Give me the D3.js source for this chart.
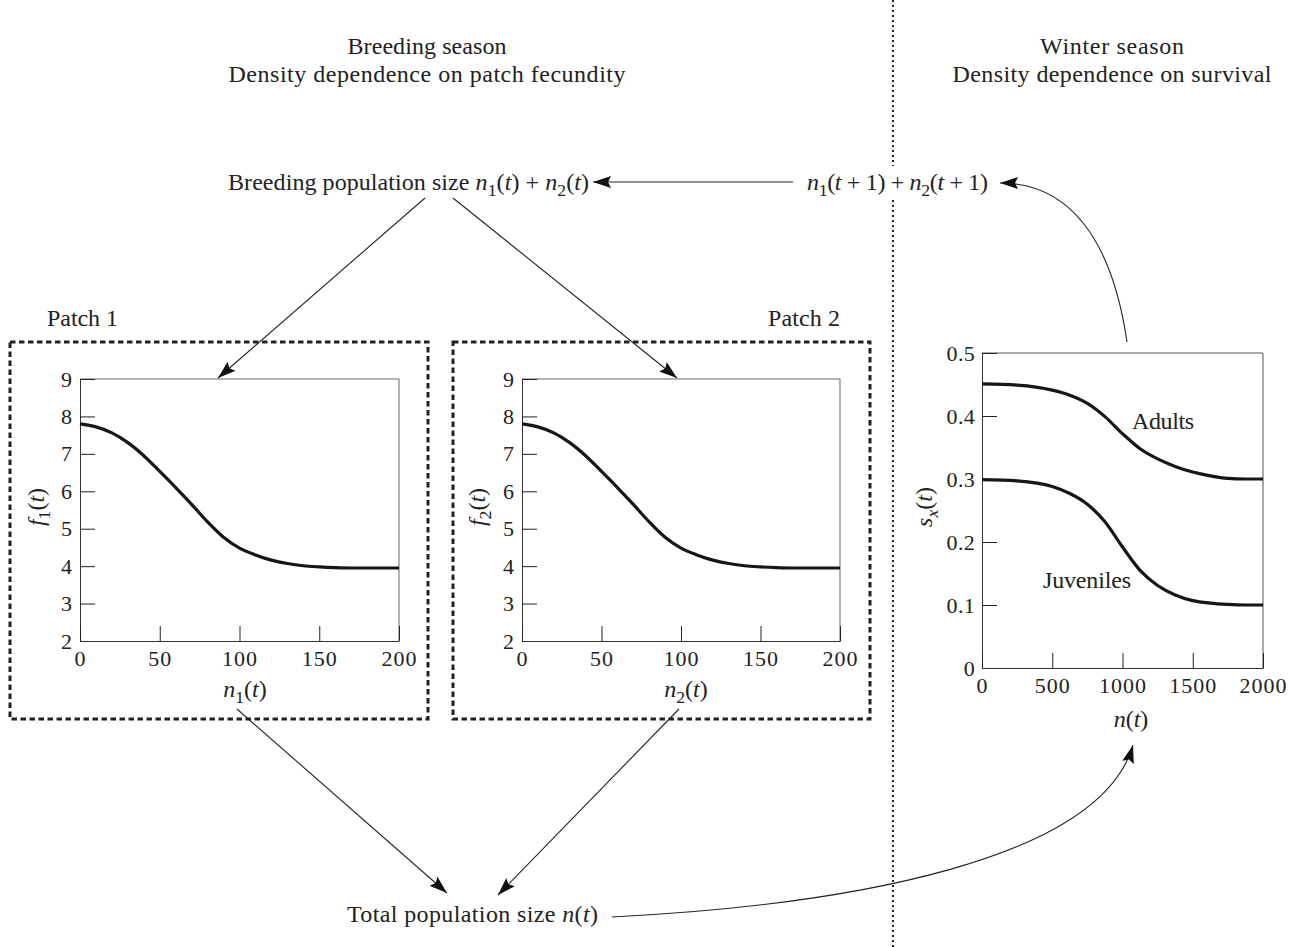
<!DOCTYPE html>
<html>
<head>
<meta charset="utf-8">
<script src="https://cdn.jsdelivr.net/npm/d3@7"></script>
<style>
  html, body { margin: 0; padding: 0; background: #fff; }
  svg { display: block; }
  text { font-family: "Liberation Serif", "Times New Roman", serif; fill: #222; }
</style>
</head>
<body>
<svg id="chart" width="1295" height="947"></svg>
<script>
// ---- Data ----
const fecN = [0, 10, 20, 30, 40, 50, 60, 70, 80, 90, 100, 110, 120, 130, 140, 150, 160, 170, 180, 190, 200];
const fecundity1 = [7.8, 7.72, 7.56, 7.3, 6.95, 6.53, 6.1, 5.65, 5.18, 4.77, 4.48, 4.3, 4.16, 4.07, 4.01, 3.98, 3.96, 3.95, 3.95, 3.95, 3.95];
const fecundity2 = [7.8, 7.72, 7.56, 7.3, 6.95, 6.53, 6.1, 5.65, 5.18, 4.77, 4.48, 4.3, 4.16, 4.07, 4.01, 3.98, 3.96, 3.95, 3.95, 3.95, 3.95];
const survN = [0, 250, 500, 625, 750, 875, 1000, 1125, 1250, 1375, 1500, 1625, 1750, 1875, 2000];
const adults = [0.451, 0.449, 0.441, 0.433, 0.420, 0.399, 0.372, 0.348, 0.332, 0.320, 0.311, 0.305, 0.301, 0.300, 0.300];
const juveniles = [0.299, 0.297, 0.288, 0.277, 0.260, 0.232, 0.192, 0.155, 0.131, 0.116, 0.107, 0.103, 0.101, 0.100, 0.100];
const fecXTicks = [0, 50, 100, 150, 200];
const fecYTicks = [2, 3, 4, 5, 6, 7, 8, 9];
const survXTicks = [0, 500, 1000, 1500, 2000];
const survYTicks = [0, 0.1, 0.2, 0.3, 0.4, 0.5];

const svg = d3.select("#chart");
const TICK_FS = 22;
const FS = 24;

// arrow marker
const defs = svg.append("defs");
defs.append("marker")
  .attr("id", "arrow")
  .attr("markerUnits", "userSpaceOnUse")
  .attr("markerWidth", 20).attr("markerHeight", 14)
  .attr("refX", 18).attr("refY", 6)
  .attr("orient", "auto")
  .append("path")
  .attr("d", "M0,0 L18,6 L0,12 L3,6 Z")
  .attr("fill", "#111");

// text helper: parts with italic / subscript, optional fitted width
function rich(x, y, parts, anchor, size, width, rotate) {
  const t = svg.append("text")
    .attr("text-anchor", anchor || "start")
    .style("font-size", size + "px");
  if (rotate) {
    t.attr("transform", `translate(${x},${y}) rotate(${rotate})`);
  } else {
    t.attr("x", x).attr("y", y);
  }
  if (width) t.attr("textLength", width).attr("lengthAdjust", "spacing");
  let off = 0;
  parts.forEach(p => {
    const ts = t.append("tspan").text(p.t);
    const target = p.sub ? Math.round(size * 0.26) : 0;
    if (target !== off) { ts.attr("dy", target - off); off = target; }
    if (p.i) ts.style("font-style", "italic");
    if (p.sub) ts.style("font-size", (size * 0.74) + "px");
  });
  return t;
}
const plain = s => [{t: s}];

// ---- Titles ----
rich(427, 54, plain("Breeding season"), "middle", FS, 159);
rich(427, 82, plain("Density dependence on patch fecundity"), "middle", FS, 397);
rich(1112, 54, plain("Winter season"), "middle", FS, 144);
rich(1112, 82, plain("Density dependence on survival"), "middle", FS, 319);

// separator
svg.append("line").attr("x1", 893).attr("x2", 893).attr("y1", 0).attr("y2", 947)
  .attr("stroke", "#222").attr("stroke-width", 2).attr("stroke-dasharray", "2,3");

function styleAxis(a) {
  a.selectAll("text").style("font-size", TICK_FS + "px").attr("fill", "#222")
    .style("font-family", '"Liberation Serif", serif').style("letter-spacing", "1px");
  a.selectAll("line").attr("stroke", "#222");
  a.select(".domain").attr("stroke", "#333");
}

// ---- Fecundity panels ----
function fecPanel(x0, x1, values, idx, boxX0, boxX1, xLabelX, yLabelX) {
  const x = d3.scaleLinear().domain([0, 200]).range([x0, x1]);
  const y = d3.scaleLinear().domain([2, 9]).range([641, 379]);
  svg.append("rect").attr("x", boxX0).attr("y", 342).attr("width", boxX1 - boxX0).attr("height", 377)
    .attr("fill", "none").attr("stroke", "#222").attr("stroke-width", 3).attr("stroke-dasharray", "5.5,3.5");
  svg.append("line").attr("x1", x0).attr("x2", x1).attr("y1", y(9)).attr("y2", y(9)).attr("stroke", "#666");
  svg.append("line").attr("x1", x1).attr("x2", x1).attr("y1", y(9)).attr("y2", y(2)).attr("stroke", "#666");
  const ya = svg.append("g").attr("transform", `translate(${x0},0)`)
    .call(d3.axisLeft(y).tickValues(fecYTicks).tickFormat(d3.format("d")).tickSizeInner(-15).tickSizeOuter(0).tickPadding(7));
  const xa = svg.append("g").attr("transform", `translate(0,${y(2)})`)
    .call(d3.axisBottom(x).tickValues(fecXTicks).tickFormat(d3.format("d")).tickSizeInner(-15).tickSizeOuter(0).tickPadding(9));
  styleAxis(ya); styleAxis(xa);
  svg.append("path").datum(fecN.map((n, i) => [n, values[i]]))
    .attr("d", d3.line().x(d => x(d[0])).y(d => y(d[1])).curve(d3.curveMonotoneX))
    .attr("fill", "none").attr("stroke", "#161616").attr("stroke-width", 3.2);
  rich(xLabelX, 697, [{t: "n", i: true}, {t: String(idx), sub: true}, {t: "("}, {t: "t", i: true}, {t: ")"}], "middle", FS);
  rich(yLabelX, 507, [{t: "f", i: true}, {t: String(idx), sub: true}, {t: "("}, {t: "t", i: true}, {t: ")"}], "middle", FS, null, -90);
}
fecPanel(80, 399, fecundity1, 1, 10, 428, 245, 44);
fecPanel(522, 840, fecundity2, 2, 453, 870, 686, 485);

rich(47, 326, plain("Patch 1"), "start", FS, 71);
rich(768, 326, plain("Patch 2"), "start", FS, 72);

// ---- Survival panel ----
(function () {
  const x = d3.scaleLinear().domain([0, 2000]).range([982, 1263]);
  const y = d3.scaleLinear().domain([0, 0.5]).range([668, 353]);
  svg.append("line").attr("x1", x(0)).attr("x2", x(2000)).attr("y1", y(0.5)).attr("y2", y(0.5)).attr("stroke", "#555");
  svg.append("line").attr("x1", x(2000)).attr("x2", x(2000)).attr("y1", y(0.5)).attr("y2", y(0)).attr("stroke", "#555");
  const ya = svg.append("g").attr("transform", `translate(${x(0)},0)`)
    .call(d3.axisLeft(y).tickValues(survYTicks).tickSizeInner(-15).tickSizeOuter(0).tickPadding(7)
      .tickFormat(d => d === 0 ? "0" : d.toFixed(1)));
  const xa = svg.append("g").attr("transform", `translate(0,${y(0)})`)
    .call(d3.axisBottom(x).tickValues(survXTicks).tickFormat(d3.format("d")).tickSizeInner(-15).tickSizeOuter(0).tickPadding(9));
  styleAxis(ya); styleAxis(xa);
  ya.selectAll("text").style("letter-spacing", "0.3px");
  const line = d3.line().x(d => x(d[0])).y(d => y(d[1])).curve(d3.curveMonotoneX);
  [adults, juveniles].forEach(vals => {
    svg.append("path").datum(survN.map((n, i) => [n, vals[i]]))
      .attr("d", line).attr("fill", "none").attr("stroke", "#161616").attr("stroke-width", 3.2);
  });
  rich(1132, 429, plain("Adults"), "start", FS, 62);
  rich(1043, 588, plain("Juveniles"), "start", FS, 88);
  rich(1131, 727, [{t: "n", i: true}, {t: "("}, {t: "t", i: true}, {t: ")"}], "middle", FS);
  rich(932, 507, [{t: "s", i: true}, {t: "x", i: true, sub: true}, {t: "("}, {t: "t", i: true}, {t: ")"}], "middle", FS, null, -90);
})();

// ---- Flow texts ----
rich(228, 190, [{t: "Breeding population size "}, {t: "n", i: true}, {t: "1", sub: true}, {t: "("}, {t: "t", i: true},
  {t: ") + "}, {t: "n", i: true}, {t: "2", sub: true}, {t: "("}, {t: "t", i: true}, {t: ")"}], "start", FS, 361);
// white gap in the separator behind the next-year label
svg.append("rect").attr("x", 800).attr("y", 166).attr("width", 192).attr("height", 32).attr("fill", "#fff");
rich(807, 190, [{t: "n", i: true}, {t: "1", sub: true}, {t: "("}, {t: "t", i: true}, {t: " + 1) + "},
  {t: "n", i: true}, {t: "2", sub: true}, {t: "("}, {t: "t", i: true}, {t: " + 1)"}], "start", FS, 181);
rich(347, 922, [{t: "Total population size "}, {t: "n", i: true}, {t: "("}, {t: "t", i: true}, {t: ")"}], "start", FS, 251);

// ---- Arrows ----
function arrowLine(x1, y1, x2, y2) {
  svg.append("line").attr("x1", x1).attr("y1", y1).attr("x2", x2).attr("y2", y2)
    .attr("stroke", "#222").attr("stroke-width", 1.1).attr("marker-end", "url(#arrow)");
}
function arrowCurve(pts) {
  const p = d3.path();
  p.moveTo(pts[0][0], pts[0][1]);
  p.bezierCurveTo(pts[1][0], pts[1][1], pts[2][0], pts[2][1], pts[3][0], pts[3][1]);
  svg.append("path").attr("d", p.toString()).attr("fill", "none")
    .attr("stroke", "#222").attr("stroke-width", 1.1).attr("marker-end", "url(#arrow)");
}
arrowLine(793, 182, 593, 182);
arrowLine(425, 198, 218, 378);
arrowLine(453, 198, 677, 378);
arrowLine(237, 709, 447, 893);
arrowLine(679, 709, 498, 895);
arrowCurve([[1127, 342], [1112, 240], [1070, 183], [1000, 183]]);
arrowCurve([[612, 917], [850, 905], [1100, 860], [1133, 745]]);
</script>
</body>
</html>
